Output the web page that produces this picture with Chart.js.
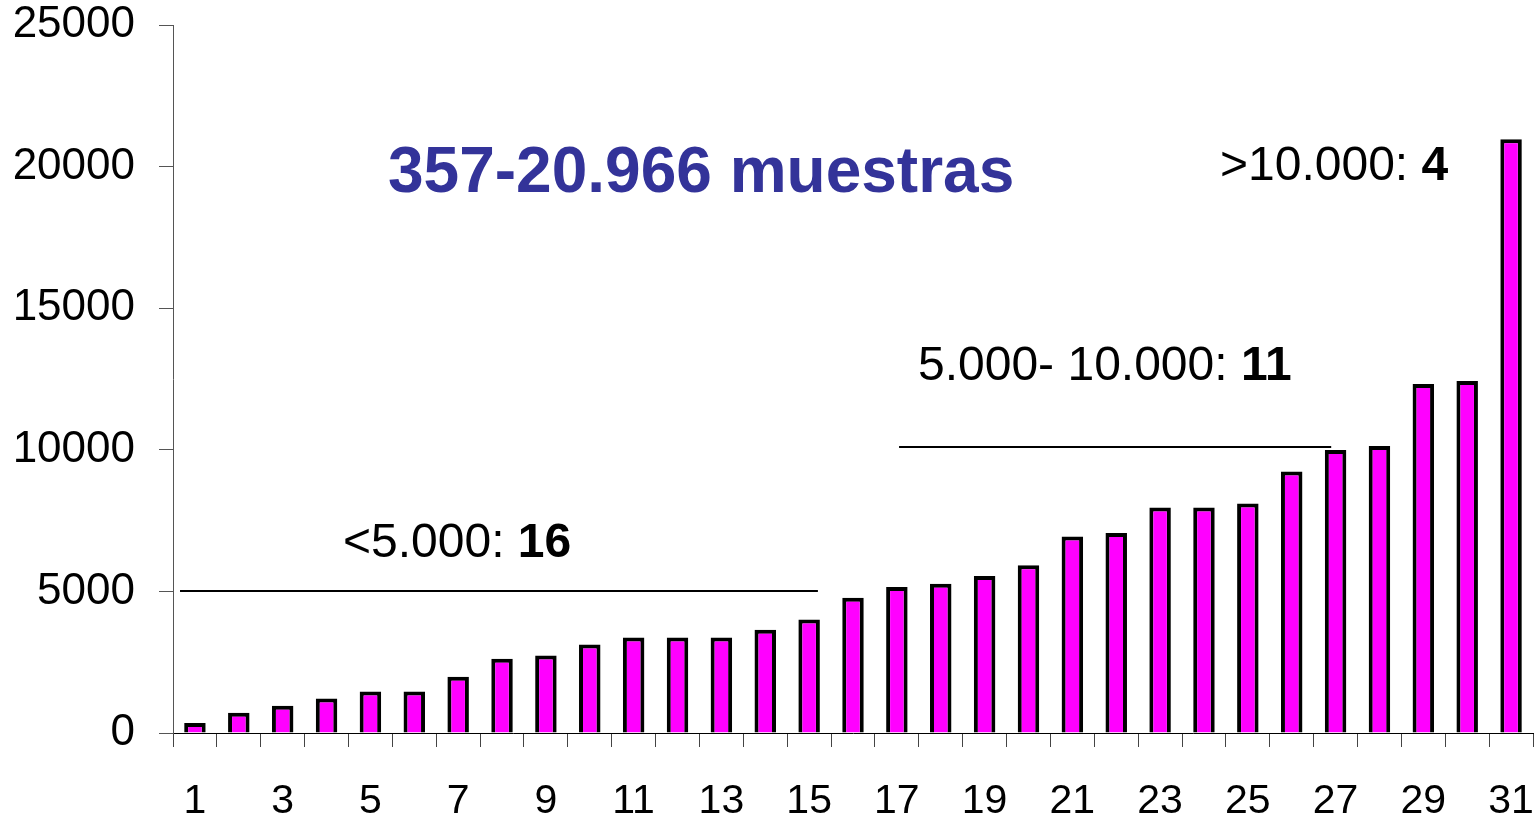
<!DOCTYPE html>
<html>
<head>
<meta charset="utf-8">
<script src="https://cdn.jsdelivr.net/npm/chart.js@4/dist/chart.umd.min.js"></script>
<style>
  html, body { margin: 0; padding: 0; background: #fff; }
  #wrap { width: 1537px; height: 821px; }
</style>
</head>
<body>
<div id="wrap"><canvas id="grafico"></canvas></div>
<script>
// Datos: número de muestras por centro, ordenado de menor a mayor
const categorias = ['1','2','3','4','5','6','7','8','9','10','11','12','13','14','15','16',
                    '17','18','19','20','21','22','23','24','25','26','27','28','29','30','31'];
const muestras = [357, 714, 961, 1220, 1467, 1467, 1986, 2622, 2740, 3128, 3376, 3376, 3376, 3647, 4012, 4779,
                  5154, 5273, 5543, 5921, 6935, 7063, 7960, 7960, 8102, 9233, 9990, 10138, 12320, 12425, 20966];
const ticksY = [0, 5000, 10000, 15000, 20000, 25000];

// Tramos (indice de categoria inicial/final y nivel)
const tramoDesde = [-0.34, 16.05];
const tramoHasta = [14.2, 25.9];
const tramoNivel = [5000, 10100];

const fuente = '"Liberation Sans", Arial, sans-serif';

// Plugin: lineas de los tramos y textos
const anotaciones = {
  id: 'anotaciones',
  afterDatasetsDraw(chart) {
    const ctx = chart.ctx;
    const x = chart.scales.x, y = chart.scales.y;
    ctx.save();
    ctx.strokeStyle = '#000';
    ctx.lineWidth = 2;
    for (let i = 0; i < tramoNivel.length; i++) {
      const py = Math.round(y.getPixelForValue(tramoNivel[i]));
      ctx.beginPath();
      ctx.moveTo(x.getPixelForValue(tramoDesde[i]), py);
      ctx.lineTo(x.getPixelForValue(tramoHasta[i]), py);
      ctx.stroke();
    }

    const left = chart.chartArea.left;
    const top = chart.chartArea.top;
    ctx.textBaseline = 'alphabetic';
    ctx.textAlign = 'left';

    ctx.fillStyle = '#333399';
    ctx.font = 'bold 64px ' + fuente;
    ctx.fillText('357-20.966 muestras', left + 215, top + 167);

    const textoMixto = (normal, negrita, px, py, size) => {
      ctx.fillStyle = '#000';
      ctx.font = size + 'px ' + fuente;
      ctx.fillText(normal, px, py);
      const w = ctx.measureText(normal).width;
      ctx.font = 'bold ' + size + 'px ' + fuente;
      ctx.fillText(negrita, px + w, py);
    };
    textoMixto('>10.000: ', '4', left + 1047, top + 155, 48);
    textoMixto('5.000- 10.000: ', '11', left + 745, top + 355, 48);
    textoMixto('<5.000: ', '16', left + 170, top + 532, 48);
    ctx.restore();
  }
};

new Chart(document.getElementById('grafico'), {
  type: 'bar',
  data: {
    labels: categorias,
    datasets: [{
      data: muestras,
      backgroundColor: '#ff00ff',
      borderColor: '#000000',
      borderWidth: 4,
      borderSkipped: 'bottom',
      barPercentage: 0.49,
      categoryPercentage: 1
    }]
  },
  options: {
    responsive: true,
    maintainAspectRatio: false,
    animation: false,
    layout: { padding: { top: 25, right: 4, left: 0, bottom: 0 } },
    plugins: {
      legend: { display: false },
      tooltip: { enabled: false }
    },
    scales: {
      x: {
        grid: {
          display: true,
          drawOnChartArea: false,
          offset: true,
          tickLength: 14,
          color: '#444'
        },
        border: { display: true, color: '#000', width: 1 },
        ticks: {
          autoSkip: false,
          maxRotation: 0,
          minRotation: 0,
          padding: 30,
          color: '#000',
          font: { family: fuente, size: 41 },
          callback: (v, i) => (i % 2 === 0 ? categorias[i] : '')
        },
        afterFit: (s) => { s.height = 88; s.paddingLeft = 0; s.paddingRight = 0; }
      },
      y: {
        min: 0,
        max: 25000,
        afterBuildTicks: (s) => { s.ticks = ticksY.map(v => ({ value: v })); },
        grid: {
          display: true,
          drawOnChartArea: false,
          tickLength: 14,
          color: '#555'
        },
        border: { display: true, color: '#555', width: 1 },
        ticks: {
          padding: 24,
          color: '#000',
          font: { family: fuente, size: 44 },
          callback: (v) => String(v)
        },
        afterFit: (s) => { s.width = 173; s.paddingTop = 0; s.paddingBottom = 0; }
      }
    }
  },
  plugins: [anotaciones]
});
</script>
</body>
</html>
